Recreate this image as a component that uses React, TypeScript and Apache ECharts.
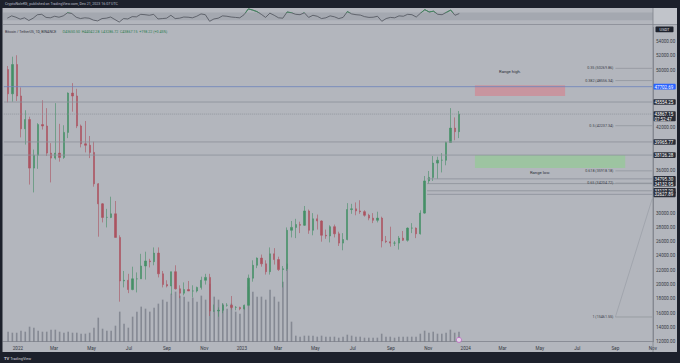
import React, { useEffect, useRef } from 'react';
import * as echarts from 'echarts';

const DAY = 86400000;
const firstWeek = Date.UTC(2021, 11, 13);
const axisMin = Date.UTC(2021, 11, 9);
const axisMax = Date.UTC(2024, 9, 31);

// weekly candles [open, high, low, close], weeks starting 2021-12-13
const candles: number[][] = [
  [50100, 50600, 45500, 46700], [46700, 51900, 45600, 50800], [50800, 52100, 45700, 46400],
  [46400, 47600, 40600, 41800], [41800, 44400, 39600, 43100], [43100, 43500, 34000, 36300],
  [36300, 38900, 32900, 38100], [38100, 42600, 36200, 42400], [42400, 45800, 41700, 42200],
  [42200, 44700, 38000, 38400], [38400, 39800, 34300, 37700], [37700, 45400, 37500, 38400],
  [38400, 42500, 37200, 37800], [37800, 42300, 37600, 41300], [41300, 46900, 40500, 46800],
  [46800, 48200, 44200, 46400], [46400, 47400, 41900, 42200], [42200, 42400, 39200, 39700],
  [39700, 42900, 38500, 39500], [39500, 40800, 37700, 38500], [38500, 40000, 33700, 34100],
  [34100, 34200, 26700, 31300], [31300, 31400, 28700, 29400], [29400, 30600, 28000, 29400],
  [29400, 32300, 29300, 29900], [29900, 31700, 26600, 26600], [26600, 26900, 17600, 20500],
  [20500, 21900, 19600, 20600], [20600, 21500, 18800, 19300], [19300, 22500, 19200, 20800],
  [20800, 21700, 18900, 20800], [20800, 24300, 20800, 22600], [22600, 24600, 20700, 23300],
  [23300, 23600, 22400, 23200], [23200, 25200, 22700, 24400], [24400, 25200, 21000, 21500],
  [21500, 21900, 19600, 20000], [20000, 20600, 19600, 19800], [19800, 21800, 18600, 21800],
  [21800, 22700, 19300, 19400], [19400, 19900, 18100, 18800], [18800, 20300, 18500, 19300],
  [19300, 20500, 19100, 19100], [19100, 19900, 18200, 19100], [19100, 19700, 18900, 19600],
  [19600, 21100, 19300, 20600], [20600, 21500, 20000, 21000], [21000, 21500, 15600, 16300],
  [16300, 17200, 16200, 16300], [16300, 16800, 15500, 16400], [16400, 17400, 16000, 17100],
  [17100, 17400, 16900, 17100], [17100, 18400, 16500, 16800], [16800, 17000, 16400, 16800],
  [16800, 16900, 16400, 16600], [16600, 17200, 16500, 17100], [17100, 21400, 17100, 20900],
  [20900, 23400, 20400, 22700], [22700, 23800, 22300, 23700], [23700, 24200, 22500, 22900],
  [22900, 23400, 21400, 21800], [21800, 25200, 21400, 24300], [24300, 25100, 22800, 23500],
  [23500, 23900, 21900, 22100], [22100, 22600, 19600, 22200], [22200, 28000, 21900, 27600],
  [27600, 28900, 26600, 28000], [28000, 29200, 26500, 28400], [28400, 28800, 27200, 28300],
  [28300, 31000, 28200, 30300], [30300, 30500, 27100, 27600], [27600, 30000, 26900, 29200],
  [29200, 29800, 27700, 28900], [28900, 29000, 26000, 26900], [26900, 27700, 26400, 26800],
  [26800, 28300, 25900, 28100], [28100, 28400, 26600, 27100], [27100, 27400, 25400, 25800],
  [25800, 27200, 24800, 26300], [26300, 31400, 26200, 30500], [30500, 31300, 29900, 30600],
  [30600, 31500, 29700, 30300], [30300, 31800, 29900, 30200], [30200, 30400, 29500, 29700],
  [29700, 29900, 29000, 29300], [29300, 30000, 28600, 29000], [29000, 30200, 28700, 29300],
  [29300, 29500, 25200, 26100], [26100, 26800, 25800, 26000], [26000, 28100, 25300, 25800],
  [25800, 26100, 25400, 25800], [25800, 26800, 24900, 26500], [26500, 27500, 26100, 26200],
  [26200, 28000, 26000, 27900], [27900, 28600, 27200, 27900], [27900, 28000, 26500, 27100],
  [27100, 30400, 27000, 30000], [30000, 35200, 29900, 34500], [34500, 35900, 34100, 35000],
  [35000, 38000, 34500, 37000], [37000, 37900, 34800, 37400], [37400, 38400, 35700, 37400],
  [37400, 40000, 36700, 39900], [39900, 44700, 39900, 41900], [41900, 43400, 40200, 41400],
  [41400, 44300, 40500, 43867.15],
];

const volumes = [
  10, 9, 9, 11, 10, 15, 14, 11, 10, 10, 12, 12, 10, 9, 10, 9, 9, 8, 8, 9,
  14, 24, 13, 11, 11, 16, 30, 18, 14,
  25, 30, 35, 33, 30, 34, 38, 42, 40, 48, 50, 46, 45, 40, 44, 40, 46, 42,
  58, 45, 42, 38, 33, 38, 30, 28,
  35, 55, 50, 45, 45, 42, 52, 45, 40, 60, 78,
  20, 6, 5, 6, 6, 6, 5, 6, 5, 5, 5, 4, 5, 7, 6, 5, 5, 4, 4, 4,
  4, 8, 5, 5, 4, 5, 5, 5, 5, 5, 8, 11, 9, 10, 8, 8, 9, 12, 9, 10,
];

const rsiValues = [
  40, 52, 45, 35, 42, 28, 40, 58, 60, 44, 42, 50, 45, 52, 68, 64, 45, 38, 42, 40,
  30, 26, 38, 40, 46, 33, 20, 38, 36, 48, 47, 60, 58, 55, 60, 36, 38, 40, 55, 38,
  40, 46, 45, 42, 50, 62, 58, 24, 36, 40, 52, 50, 46, 44, 42, 58, 88, 82, 74, 60,
  44, 66, 55, 42, 40, 72, 68, 60, 58, 68, 44, 55, 50, 38, 42, 52, 47, 38, 44, 74,
  62, 58, 56, 48, 44, 45, 50, 24, 38, 44, 42, 52, 50, 60, 58, 46, 66, 84, 72, 76,
  60, 58, 70, 82, 55, 64,
];
const rsiBand = [30, 70];
const rsiRange = [10, 90];

const fullRays = [47702.69, 45554.25, 43867.15, 39965.77, 38126.28];
const shortRays = [34795.3, 34132.95, 33127.29, 32627.89];
const fibRatios = ['0.35', '0.382', '0.5', '0.618', '0.65', '1'];
const fibPrices = [50269.86, 48556.34, 42237.34, 35918.18, 34204.72, 15461.55];
const hiddenPriceLabels = [56000, 48000, 46000, 44000, 40000, 38000, 34000, 32000];
const monthNames = ['Jan', 'Feb', 'Mar', 'Apr', 'May', 'Jun', 'Jul', 'Aug', 'Sep', 'Oct', 'Nov', 'Dec'];

const boxLabels = ['Range high.', 'Range low.'];
const boxFrom = [Date.UTC(2024, 0, 16), Date.UTC(2024, 0, 16)];
const boxTo = [Date.UTC(2024, 5, 11), Date.UTC(2024, 8, 17)];
const boxTop = [47900, 38126.28];
const boxBottom = [46400, 36300];

const fibStart = Date.UTC(2024, 8, 1);
const shortRayStart = Date.UTC(2023, 9, 30);
const fibTrendEnd = 32000;

const FONT = 'Roboto, "DejaVu Sans", sans-serif';
const AXIS_TEXT = '#363a44';
const DARK = '#1c202b';

const RSI_TOP = 8.5;
const RSI_H = 15.5;

export default function App() {
  const ref = useRef<HTMLDivElement>(null);

  useEffect(() => {
    document.body.style.margin = '0';
    if (!ref.current) return;
    const chart = echarts.init(ref.current, undefined, { renderer: 'svg' });
    const weekTime = (i: number) => firstWeek + i * 7 * DAY + 3 * DAY;

    const candleData = candles.map((c, i) => [weekTime(i), c[0], c[3], c[2], c[1]]);
    const volData = volumes.map((v, i) => [weekTime(i), v]);
    const rsiData = rsiValues.map((v, i) => [weekTime(i), v]);

    const rayRows = [
      ...fullRays.map((p) => [axisMin, axisMax, p]),
      ...shortRays.map((p) => [shortRayStart, axisMax, p]),
    ];
    const fibRows = fibPrices.map((p) => [fibStart, axisMax, p]);
    const boxRows = boxLabels.map((_, i) => [boxFrom[i], boxTo[i], boxTop[i], boxBottom[i]]);

    // overbought sub-grid covers only the band above the upper RSI level
    const obHeight = (RSI_H * (rsiRange[1] - rsiBand[1])) / (rsiRange[1] - rsiRange[0]);

    const option: any = {
      animation: false,
      useUTC: true,
      backgroundColor: '#b3b6bd',
      textStyle: { fontFamily: FONT },
      grid: [
        { left: 3, right: 27, top: 27.4, bottom: 21.3 },
        { left: 3, right: 27, top: RSI_TOP, height: RSI_H },
        { left: 3, right: 27, top: RSI_TOP, height: obHeight },
      ],
      xAxis: [
        {
          type: 'time',
          gridIndex: 0,
          min: axisMin,
          max: axisMax,
          minInterval: 61 * DAY,
          maxInterval: 61 * DAY,
          axisLine: { show: true, lineStyle: { color: '#7f838c', width: 0.8 } },
          axisTick: { show: false },
          splitLine: { show: false },
          axisLabel: {
            fontSize: 4.6,
            color: AXIS_TEXT,
            margin: 4,
            fontFamily: FONT,
            formatter: (v: number) => {
              const d = new Date(v);
              const m = d.getUTCMonth();
              return m === 0 ? String(d.getUTCFullYear()) : monthNames[m];
            },
          },
        },
        { type: 'time', gridIndex: 1, min: axisMin, max: axisMax, show: false },
        { type: 'time', gridIndex: 2, min: axisMin, max: axisMax, show: false },
      ],
      yAxis: [
        {
          type: 'value',
          gridIndex: 0,
          position: 'right',
          min: 12000,
          max: 56000,
          interval: 2000,
          axisLine: { show: true, lineStyle: { color: '#7f838c', width: 0.8 } },
          axisTick: { show: false },
          splitLine: { show: false },
          axisLabel: {
            fontSize: 4.6,
            color: AXIS_TEXT,
            margin: 3,
            fontFamily: FONT,
            formatter: (v: number) => (hiddenPriceLabels.includes(v) ? '' : v.toFixed(2)),
          },
        },
        { type: 'value', gridIndex: 0, min: 0, max: 314, show: false },
        { type: 'value', gridIndex: 1, min: rsiRange[0], max: rsiRange[1], show: false },
        { type: 'value', gridIndex: 2, min: rsiBand[1], max: rsiRange[1], show: false },
      ],
      series: [
        {
          type: 'bar',
          name: 'Volume',
          xAxisIndex: 0,
          yAxisIndex: 1,
          data: volData,
          barWidth: 1.6,
          itemStyle: { color: 'rgba(118,122,133,0.75)' },
          z: 1,
        },
        {
          type: 'custom',
          name: 'boxes',
          xAxisIndex: 0,
          yAxisIndex: 0,
          data: boxRows,
          encode: { x: [0, 1], y: [2, 3] },
          z: 2,
          renderItem: (params: any, api: any) => {
            const i = params.dataIndex;
            const a = api.coord([api.value(0), api.value(2)]);
            const b = api.coord([api.value(1), api.value(3)]);
            const high = i === 0;
            const cx = (a[0] + b[0]) / 2 - 10;
            return {
              type: 'group',
              children: [
                {
                  type: 'rect',
                  shape: { x: a[0], y: a[1], width: b[0] - a[0], height: b[1] - a[1] },
                  style: { fill: high ? '#c8959f' : '#9dc4a1' },
                },
                {
                  type: 'text',
                  x: cx,
                  y: high ? a[1] - 14 : b[1] + 4.5,
                  style: {
                    text: boxLabels[i],
                    fill: '#2b2f3a',
                    fontSize: 4.2,
                    fontFamily: FONT,
                    align: 'center',
                    verticalAlign: 'middle',
                  },
                },
              ],
            };
          },
        },
        {
          type: 'custom',
          name: 'rays',
          xAxisIndex: 0,
          yAxisIndex: 0,
          data: rayRows,
          encode: { x: [0, 1], y: 2 },
          z: 4,
          renderItem: (params: any, api: any) => {
            const p = api.value(2);
            const a = api.coord([api.value(0), p]);
            const b = api.coord([api.value(1), p]);
            const isBlue = Math.abs(p - 47702.69) < 0.01;
            const isLast = Math.abs(p - 43867.15) < 0.01;
            const h = isLast ? 10 : 5.6;
            return {
              type: 'group',
              children: [
                {
                  type: 'line',
                  shape: { x1: a[0], y1: a[1], x2: b[0], y2: b[1] },
                  style: {
                    stroke: isBlue ? '#6d84bd' : '#8c9099',
                    lineWidth: 0.8,
                    lineDash: isLast ? [1, 1] : null,
                  },
                },
                {
                  type: 'rect',
                  shape: { x: b[0] + 1, y: a[1] - (isLast ? 2.8 : h / 2), width: 22.5, height: h, r: 0.8 },
                  style: { fill: isBlue ? '#2962ff' : '#2a2e39' },
                },
                {
                  type: 'text',
                  x: b[0] + 2.2,
                  y: a[1] - (isLast ? 2.8 : h / 2) + 0.9,
                  style: {
                    text: isLast ? p.toFixed(2) + '\n07:52:47' : p.toFixed(2),
                    fill: '#ffffff',
                    fontSize: 4.5,
                    lineHeight: 4.8,
                    fontFamily: FONT,
                    verticalAlign: 'top',
                  },
                },
              ],
            };
          },
        },
        {
          type: 'custom',
          name: 'fib',
          xAxisIndex: 0,
          yAxisIndex: 0,
          data: fibRows,
          encode: { x: [0, 1], y: 2 },
          z: 4,
          renderItem: (params: any, api: any) => {
            const i = params.dataIndex;
            const p = api.value(2);
            const a = api.coord([api.value(0), p]);
            const b = api.coord([api.value(1), p]);
            const children: any[] = [
              {
                type: 'line',
                shape: { x1: a[0], y1: a[1], x2: b[0], y2: b[1] },
                style: { stroke: '#8e929a', lineWidth: 0.7 },
              },
              {
                type: 'text',
                x: a[0] - 2,
                y: a[1],
                style: {
                  text: `${fibRatios[i]} (${fibPrices[i].toFixed(2)})`,
                  fill: '#3a3e48',
                  fontSize: 3.7,
                  fontFamily: FONT,
                  align: 'right',
                  verticalAlign: 'middle',
                },
              },
            ];
            if (i === fibRows.length - 1) {
              const c = api.coord([api.value(1), fibTrendEnd]);
              children.push({
                type: 'line',
                shape: { x1: a[0], y1: a[1], x2: c[0], y2: c[1] },
                style: { stroke: '#9a9ea6', lineWidth: 0.7 },
              });
            }
            return { type: 'group', children };
          },
        },
        {
          type: 'candlestick',
          name: 'BTCUSDT',
          xAxisIndex: 0,
          yAxisIndex: 0,
          data: candleData,
          barWidth: 1.8,
          itemStyle: {
            color: '#458f66',
            color0: '#ab5360',
            borderColor: '#458f66',
            borderColor0: '#ab5360',
            borderWidth: 0.6,
          },
          z: 3,
        },
        {
          type: 'line',
          name: 'bandBase',
          xAxisIndex: 1,
          yAxisIndex: 2,
          stack: 'band',
          data: [[axisMin, rsiBand[0]], [axisMax, rsiBand[0]]],
          showSymbol: false,
          lineStyle: { opacity: 0 },
          silent: true,
        },
        {
          type: 'line',
          name: 'band',
          xAxisIndex: 1,
          yAxisIndex: 2,
          stack: 'band',
          data: [[axisMin, rsiBand[1] - rsiBand[0]], [axisMax, rsiBand[1] - rsiBand[0]]],
          showSymbol: false,
          lineStyle: { opacity: 0 },
          areaStyle: { color: 'rgba(85,90,104,0.22)' },
          silent: true,
        },
        {
          type: 'line',
          name: 'RSI',
          xAxisIndex: 1,
          yAxisIndex: 2,
          data: rsiData,
          showSymbol: false,
          lineStyle: { width: 0.8, color: '#4f535c' },
          z: 3,
        },
        {
          type: 'line',
          name: 'RSI overbought',
          xAxisIndex: 2,
          yAxisIndex: 3,
          data: rsiData,
          showSymbol: false,
          clip: true,
          lineStyle: { width: 0.9, color: '#3d8c5c' },
          z: 4,
        },
        {
          type: 'scatter',
          name: 'event',
          xAxisIndex: 0,
          yAxisIndex: 0,
          data: [[Date.UTC(2023, 11, 21), 12250]],
          symbolSize: 5,
          itemStyle: { color: '#f3e6f6', borderColor: '#c25fc6', borderWidth: 1 },
          z: 5,
        },
      ],
      graphic: [
        { type: 'rect', shape: { x: 653, y: 8, width: 24, height: 16.5 }, style: { fill: '#c1c4ca' }, z: 0 },
        { type: 'line', shape: { x1: 3, y1: 24.5, x2: 677, y2: 24.5 }, style: { stroke: '#868a93', lineWidth: 0.8 }, z: 10 },
        { type: 'line', shape: { x1: 653, y1: 8, x2: 653, y2: 352 }, style: { stroke: '#7f838c', lineWidth: 0.8 }, z: 10 },
        { type: 'rect', shape: { x: 0, y: 0, width: 680, height: 8 }, style: { fill: DARK }, z: 20 },
        { type: 'rect', shape: { x: 0, y: 352, width: 680, height: 11 }, style: { fill: DARK }, z: 20 },
        { type: 'rect', shape: { x: 0, y: 0, width: 2.5, height: 363 }, style: { fill: DARK }, z: 20 },
        { type: 'rect', shape: { x: 677, y: 0, width: 3, height: 363 }, style: { fill: DARK }, z: 20 },
        {
          type: 'text',
          x: 5,
          y: 2.2,
          z: 21,
          style: {
            text: 'CryptoNoleKG, published on TradingView.com, Dec 21, 2023 16:07 UTC',
            fill: '#b9bdc7',
            fontSize: 3.6,
            fontFamily: FONT,
          },
        },
        {
          type: 'text',
          x: 4,
          y: 356,
          z: 21,
          style: {
            text: '{b|TV} TradingView',
            fill: '#d1d4dc',
            fontSize: 3.8,
            fontFamily: FONT,
            rich: { b: { fontWeight: 'bold', fill: '#d1d4dc', fontSize: 4.2 } },
          },
        },
        {
          type: 'text',
          x: 5,
          y: 26.3,
          z: 21,
          style: {
            text: '{a|Bitcoin / TetherUS, 1D, BINANCE}  {g|O43650.50  H44042.28  L43286.72  C43867.15  +198.22 (+0.45%)}',
            fontFamily: FONT,
            rich: {
              a: { fill: '#2f333d', fontSize: 3.6, fontFamily: FONT },
              g: { fill: '#2e7d52', fontSize: 3.6, fontFamily: FONT },
            },
          },
        },
        { type: 'rect', shape: { x: 655.5, y: 26.6, width: 18, height: 5.6, r: 0.8 }, style: { fill: '#1e222d' }, z: 21 },
        {
          type: 'text',
          x: 664.5,
          y: 29.4,
          z: 22,
          style: { text: 'USDT', fill: '#e0e3eb', fontSize: 4, fontFamily: FONT, align: 'center', verticalAlign: 'middle' },
        },
      ],
    };

    chart.setOption(option);
    return () => chart.dispose();
  }, []);

  return <div ref={ref} style={{ width: 680, height: 363, background: '#b3b6bd' }} />;
}
